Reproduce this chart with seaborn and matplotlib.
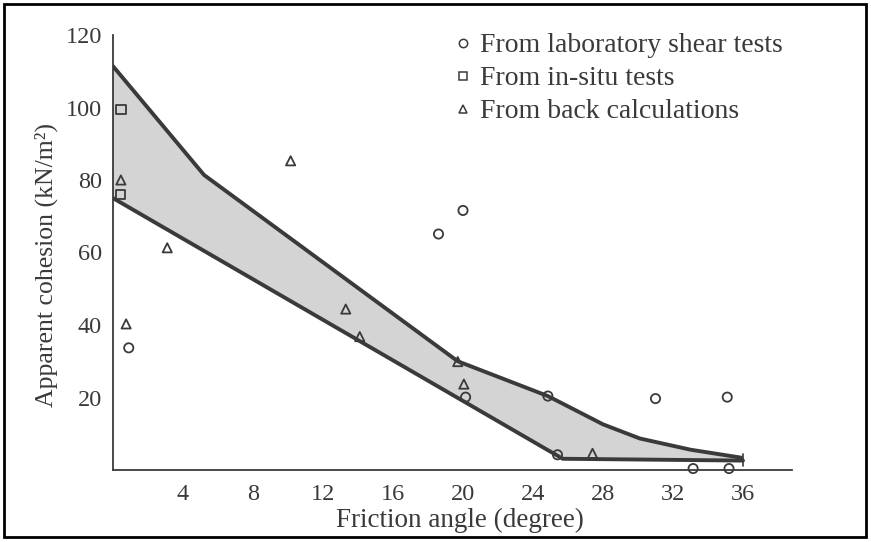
import numpy as np
import pandas as pd
import matplotlib
matplotlib.use("Agg")
import matplotlib.pyplot as plt
from matplotlib.lines import Line2D
from matplotlib.patches import Rectangle
import seaborn as sns

# ---------------- data ----------------
x_ticks = [4, 8, 12, 16, 20, 24, 28, 32, 36]
y_ticks = [20, 40, 60, 80, 100, 120]

upper_x = [0, 5.2, 19.7, 24.85, 28.0, 30.1, 33.0, 35.9]
upper_y = [111.4, 81.4, 30.0, 20.4, 12.6, 8.7, 5.6, 3.4]
lower_x = [0, 25.7, 36.0]
lower_y = [75.0, 3.1, 2.6]

lab_x = [0.9, 18.6, 20.0, 20.15, 24.85, 25.4, 31.0, 35.1, 33.15, 35.2]
lab_y = [33.7, 65.1, 71.6, 20.1, 20.4, 4.2, 19.7, 20.1, 0.4, 0.4]
insitu_x = [0.46, 0.45]
insitu_y = [99.4, 76.1]
back_x = [0.45, 0.75, 3.1, 10.15, 13.3, 14.1, 19.7, 20.05, 27.4]
back_y = [80.0, 40.3, 61.3, 85.3, 44.4, 36.8, 29.9, 23.7, 4.6]

labels = ["From laboratory shear tests", "From in-situ tests", "From back calculations"]

# ---------------- style ----------------
sns.set_theme(style="white")
plt.rcParams["font.family"] = ["Liberation Serif", "DejaVu Serif"]
ink = "#3a3a3a"

fig = plt.figure(figsize=(8.71, 5.42), dpi=100)
ax = fig.add_axes([113 / 871, 1 - 470 / 542, (792 - 113) / 871, (470 - 35) / 542])

# band
poly_x = np.concatenate([upper_x, lower_x[::-1]])
poly_y = np.concatenate([upper_y, lower_y[::-1]])
ax.fill(poly_x, poly_y, color="#d4d4d4", lw=0, zorder=1)
sns.lineplot(x=upper_x, y=upper_y, sort=False, estimator=None, color=ink, lw=2.8, ax=ax, zorder=2)
sns.lineplot(x=lower_x, y=lower_y, sort=False, estimator=None, color=ink, lw=2.8, ax=ax, zorder=2)
ax.plot([36.0, 36.0], [1.2, 4.4], color=ink, lw=1.2, zorder=2)

# points
for xs, ys, mk in [(lab_x, lab_y, "o"), (insitu_x, insitu_y, "s"), (back_x, back_y, "^")]:
    sns.scatterplot(x=xs, y=ys, marker=mk, s=44, color=ink, ax=ax, zorder=3, legend=False)
    coll = ax.collections[-1]
    coll.set_facecolor("none")
    coll.set_edgecolor(ink)
    coll.set_linewidth(1.3)
    coll.set_clip_on(False)

ax.set_xlim(0, 38.8)
ax.set_ylim(0, 120)
ax.set_xticks(x_ticks)
ax.set_yticks(y_ticks)
ax.tick_params(direction="in", length=8, width=1.3, color=ink, labelcolor=ink, labelsize=17.5)
ax.tick_params(axis="x", pad=10)
ax.tick_params(axis="y", pad=8)
for side in ["top", "right"]:
    ax.spines[side].set_visible(False)
for side in ["left", "bottom"]:
    ax.spines[side].set_color(ink)
    ax.spines[side].set_linewidth(1.3)

ax.set_xlabel("Friction angle (degree)", fontsize=19.5, color=ink)
ax.set_ylabel("Apparent cohesion (kN/m²)", fontsize=18.5, color=ink)
ax.xaxis.set_label_coords((460 - 113) / (792 - 113), -(508 - 470) / (470 - 35))
ax.yaxis.set_label_coords(-(113 - 58) / (792 - 113), (470 - 265) / (470 - 35))

handles = [Line2D([], [], ls="none", marker=m, mfc="none", mec=ink, mew=1.1, ms=6)
           for m in ["o", "s", "^"]]
leg = ax.legend(handles, labels, loc="upper left", bbox_to_anchor=(441 / 871, 1 - 19 / 542),
                bbox_transform=fig.transFigure, frameon=False, fontsize=20,
                handlelength=0.6, handletextpad=0.3, labelspacing=0.27, borderpad=0)
for t in leg.get_texts():
    t.set_color(ink)

fig.patches.append(Rectangle((4 / 871, 1 - 537 / 542), 862 / 871, 533 / 542,
                             transform=fig.transFigure, fill=False, ec="black", lw=2))

fig.savefig("out.png", dpi=100, facecolor="white")
